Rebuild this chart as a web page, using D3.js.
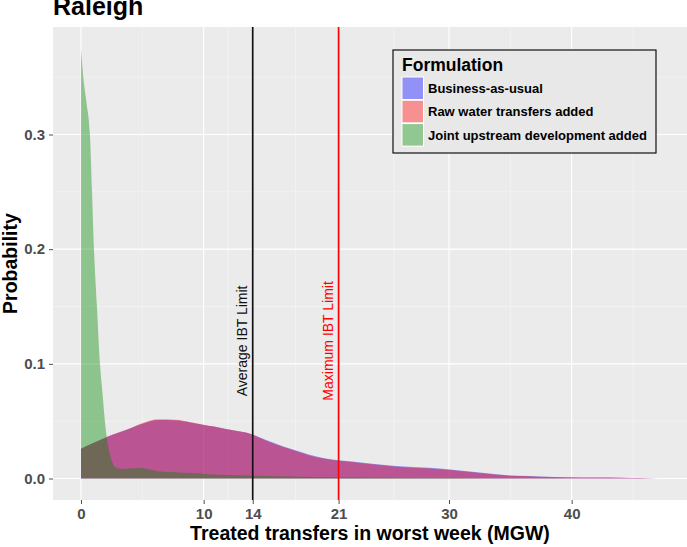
<!DOCTYPE html>
<html>
<head>
<meta charset="utf-8">
<script src="https://cdn.jsdelivr.net/npm/d3@7"></script>
<style>
  body { margin: 0; background: #fff; }
  svg { display: block; font-family: "Liberation Sans", Arial, sans-serif; }
</style>
</head>
<body>
<div id="chart"></div>
<script>
// ---- data ----
var seriesNames = ['Business-as-usual', 'Raw water transfers added', 'Joint upstream development added'];
var seriesColors = ['#0000ff', '#ff0000', '#008800'];

var xTicks = [0, 10, 14, 21, 30, 40];
var xMinor = [5, 12, 17.5, 25.5, 35, 45];
var yTicks = [0, 0.1, 0.2, 0.3];
var yMinor = [0.05, 0.15, 0.25, 0.35];

// transfers (MGW) where densities were read
var bauX = [0, 1, 2.2, 3.6, 5, 6.3, 7.7, 9, 10.4, 11.05, 12.4, 13.8, 15.1, 16.5, 17.8, 19.2, 20.5, 21.9, 23, 25.7, 28.4, 30.1, 32.5, 34.9, 35.8, 37.4, 39.6, 42, 44, 45.5, 47];
var bauY = [0.026, 0.031, 0.0367, 0.042, 0.0477, 0.051, 0.0507, 0.0487, 0.046, 0.045, 0.042, 0.039, 0.0335, 0.028, 0.0236, 0.0192, 0.0166, 0.015, 0.0138, 0.0109, 0.0093, 0.0078, 0.0052, 0.0027, 0.0023, 0.0017, 0.0011, 0.0009, 0.0007, 0.0004, 0];

var rawX = bauX;
var rawY = [0.026, 0.031, 0.0367, 0.042, 0.0482, 0.0516, 0.0513, 0.049, 0.046, 0.045, 0.042, 0.039, 0.033, 0.0274, 0.023, 0.0186, 0.0162, 0.0145, 0.0132, 0.0103, 0.0088, 0.0074, 0.0049, 0.0026, 0.0022, 0.0016, 0.0011, 0.0009, 0.0007, 0.0004, 0];

var jointX = [0, 0.19, 0.45, 0.73, 0.9, 1.06, 1.3, 1.55, 1.75, 1.95, 2.1, 2.3, 2.5, 2.7, 3, 3.5, 4, 4.5, 5, 5.5, 6.3, 7.7, 9, 10.4, 12, 14, 16, 18, 20, 22, 25, 30, 35, 40, 47];
var jointY = [0.375, 0.35, 0.328, 0.30, 0.25, 0.20, 0.15, 0.10, 0.075, 0.05, 0.036, 0.024, 0.016, 0.011, 0.009, 0.0085, 0.0088, 0.009, 0.0092, 0.008, 0.0064, 0.0055, 0.0048, 0.0038, 0.003, 0.0025, 0.002, 0.0016, 0.0013, 0.001, 0.0007, 0.0004, 0.0002, 0.0001, 0];

var limits = [{value: 14, label: 'Average IBT Limit', color: '#111111'},
              {value: 21, label: 'Maximum IBT Limit', color: '#ff0000'}];

// ---- layout ----
var width = 687, height = 547;
var panel = {left: 53, right: 687, top: 27, bottom: 500};
var font = '"Liberation Sans", Arial, sans-serif';

var svg = d3.select('#chart').append('svg')
    .attr('width', width)
    .attr('height', height);

var x = d3.scaleLinear().domain([-2.28, 49.4]).range([panel.left, panel.right]);
var y = d3.scaleLinear().domain([-0.01875, 0.39375]).range([panel.bottom, panel.top]);

// panel background
svg.append('rect')
    .attr('x', panel.left)
    .attr('y', panel.top)
    .attr('width', panel.right - panel.left)
    .attr('height', panel.bottom - panel.top)
    .attr('fill', '#ebebeb');

// grid
var grid = svg.append('g');
grid.selectAll('.xminor').data(xMinor).enter().append('line')
    .attr('x1', function (d) { return x(d); }).attr('x2', function (d) { return x(d); })
    .attr('y1', panel.top).attr('y2', panel.bottom)
    .attr('stroke', '#f7f7f7').attr('stroke-width', 0.6);
grid.selectAll('.yminor').data(yMinor).enter().append('line')
    .attr('x1', panel.left).attr('x2', panel.right)
    .attr('y1', function (d) { return y(d); }).attr('y2', function (d) { return y(d); })
    .attr('stroke', '#f7f7f7').attr('stroke-width', 0.6);
grid.selectAll('.xmajor').data(xTicks).enter().append('line')
    .attr('x1', function (d) { return x(d); }).attr('x2', function (d) { return x(d); })
    .attr('y1', panel.top).attr('y2', panel.bottom)
    .attr('stroke', '#fff').attr('stroke-width', 1.1);
grid.selectAll('.ymajor').data(yTicks).enter().append('line')
    .attr('x1', panel.left).attr('x2', panel.right)
    .attr('y1', function (d) { return y(d); }).attr('y2', function (d) { return y(d); })
    .attr('stroke', '#fff').attr('stroke-width', 1.1);

// density areas
var series = [
    {xs: bauX, ys: bauY},
    {xs: rawX, ys: rawY},
    {xs: jointX, ys: jointY}
];

var area = d3.area()
    .x(function (d) { return x(d[0]); })
    .y0(y(0))
    .y1(function (d) { return y(d[1]); })
    .curve(d3.curveMonotoneX);

svg.append('g').selectAll('path').data(series).enter().append('path')
    .attr('d', function (s) { return area(d3.zip(s.xs, s.ys)); })
    .attr('fill', function (s, i) { return seriesColors[i]; })
    .attr('fill-opacity', 0.4);

// IBT limit lines and labels
var lim = svg.append('g');
lim.selectAll('line').data(limits).enter().append('line')
    .attr('x1', function (d) { return x(d.value); }).attr('x2', function (d) { return x(d.value); })
    .attr('y1', panel.top).attr('y2', panel.bottom)
    .attr('stroke', function (d) { return d.color; })
    .attr('stroke-width', 1.7);
lim.selectAll('text').data(limits).enter().append('text')
    .attr('transform', function (d) { return 'translate(' + (x(d.value) - 6) + ',' + y(0.12) + ') rotate(-90)'; })
    .attr('text-anchor', 'middle')
    .attr('fill', function (d) { return d.color; })
    .style('font-family', font)
    .style('font-size', '14px')
    .text(function (d) { return d.label; });

// axes
var xAxis = svg.append('g')
    .attr('transform', 'translate(0,' + panel.bottom + ')')
    .call(d3.axisBottom(x).tickValues(xTicks).tickFormat(d3.format('d')).tickSize(4).tickPadding(4));
var yAxis = svg.append('g')
    .attr('transform', 'translate(' + panel.left + ',0)')
    .call(d3.axisLeft(y).tickValues(yTicks).tickFormat(d3.format('.1f')).tickSize(4).tickPadding(4));

[xAxis, yAxis].forEach(function (ax) {
    ax.select('.domain').remove();
    ax.selectAll('.tick line').attr('stroke', '#4d4d4d').attr('stroke-width', 1);
    ax.selectAll('.tick text')
        .attr('fill', '#4d4d4d')
        .style('font-family', font)
        .style('font-size', '15px')
        .style('font-weight', 'bold');
});

// titles
svg.append('text')
    .attr('x', 53).attr('y', 15)
    .style('font-family', font).style('font-size', '25px').style('font-weight', 'bold')
    .text('Raleigh');

svg.append('text')
    .attr('x', (panel.left + panel.right) / 2).attr('y', 540)
    .attr('text-anchor', 'middle')
    .style('font-family', font).style('font-size', '19.5px').style('font-weight', 'bold')
    .text('Treated transfers in worst week (MGW)');

svg.append('text')
    .attr('transform', 'translate(17,' + (panel.top + panel.bottom) / 2 + ') rotate(-90)')
    .attr('text-anchor', 'middle')
    .style('font-family', font).style('font-size', '19.5px').style('font-weight', 'bold')
    .text('Probability');

// legend
var legend = svg.append('g').attr('transform', 'translate(393,50)');
legend.append('rect')
    .attr('width', 263).attr('height', 103)
    .attr('fill', '#e8e8e8')
    .attr('stroke', '#111').attr('stroke-width', 1.2);
legend.append('text')
    .attr('x', 9).attr('y', 21)
    .style('font-family', font).style('font-size', '17.5px').style('font-weight', 'bold')
    .text('Formulation');

var rows = legend.selectAll('.row').data(seriesNames).enter().append('g')
    .attr('transform', function (d, i) { return 'translate(9,' + (27 + i * 23.3) + ')'; });
rows.append('rect')
    .attr('width', 21.5).attr('height', 22.5)
    .attr('fill', '#f2f2f2')
    .attr('stroke', '#fff').attr('stroke-width', 1);
rows.append('rect')
    .attr('x', 0.5).attr('y', 0.5)
    .attr('width', 20.5).attr('height', 21.5)
    .attr('fill', function (d, i) { return seriesColors[i]; })
    .attr('fill-opacity', 0.4);
rows.append('text')
    .attr('x', 26).attr('y', 16)
    .style('font-family', font).style('font-size', '13px').style('font-weight', 'bold')
    .text(function (d) { return d; });
</script>
</body>
</html>
